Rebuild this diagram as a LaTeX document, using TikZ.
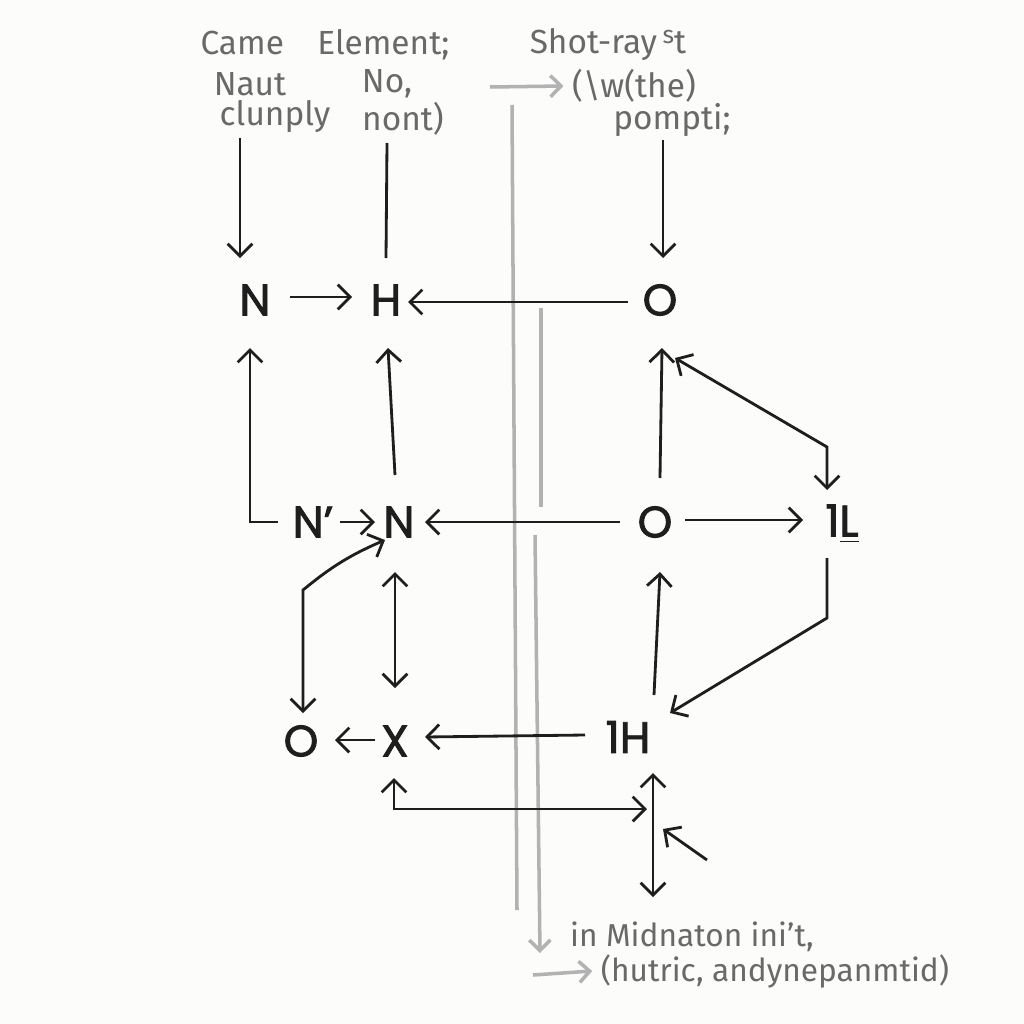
\documentclass[tikz,border=0pt]{standalone}
\usepackage{fontspec}
\setmainfont{Fira Sans}
\newfontfamily\atomfont[FakeBold=2]{Poppins}
\usetikzlibrary{arrows.meta,calc}
\definecolor{paper}{RGB}{252,252,250}
\definecolor{ink}{RGB}{30,30,30}
\definecolor{pencil}{RGB}{105,105,105}
\definecolor{guide}{RGB}{178,178,178}

\begin{document}
\begin{tikzpicture}[x=0.01cm,y=-0.01cm,
    atom/.style={font=\atomfont\fontsize{12.5}{14}\selectfont,text=ink,inner sep=0pt},
    note/.style={font=\fontsize{9.5}{11}\selectfont,text=pencil,inner sep=0pt},
    arr/.style={draw=ink,line width=0.8pt,-{Straight Barb[length=3.5pt,width=7pt]}},
    arrs/.style={arr,{Straight Barb[length=3.5pt,width=7pt]}-{Straight Barb[length=3.5pt,width=7pt]}},
    guideline/.style={draw=guide,line width=1pt},
    guidearr/.style={guideline,-{Straight Barb[length=3pt,width=6pt]}}]

  \fill[paper] (0,0) rectangle (1024,1024);
  \useasboundingbox (0,0) rectangle (1024,1024);

  % pencil notes
  \node[note] (came) at (325,45) {Came\hspace{1em}Element;};
  \node[note] (nat) at (250,84) {Naut};
  \node[note] (clunply) at (275,117) {clunply};
  \node[note] (no) at (387,84) {No,};
  \node[note] (nont) at (403,119) {nont)};
  \node[note] (shotray) at (608,45) {Shot-ray\,\raisebox{0.6ex}{\scriptsize s}t};
  \node[note] (wthe) at (634,86) {(\textbackslash w(the)};
  \node[note] (pompti) at (672,120) {pompti;};
  \node[note,font=\fontsize{9}{11}\selectfont] (midnaton) at (692,937) {in Midnaton ini’t,};
  \node[note,font=\fontsize{9}{11}\selectfont] (hutric) at (775,971) {(hutric, andynepanmtid)};

  % guide lines
  \draw[guideline] (512,105) -- (517,910);
  \draw[guideline] (541,308) -- (541,507);
  \draw[guidearr] (535,535) -- (540,953);
  \draw[guidearr] (490,87) -- ($(wthe.west)+(-8,0)$);
  \draw[guidearr] (533,975) -- ($(hutric.west)+(-8,0)$);

  % atoms
  \node[atom] (n1) at (255,300) {N};
  \node[atom] (h1) at (386,300) {H};
  \node[atom] (o1) at (660,300) {O};
  \node[atom] (np) at (313,522) {N’};
  \node[atom] (n2) at (399,522) {N};
  \node[atom] (o2) at (655,522) {O};
  \node[atom] (oneL) at (842,524) {1\underline{L}};
  \node[atom] (o3) at (301,741) {O};
  \node[atom] (x) at (395,741) {X};
  \node[atom] (oneH) at (628,737) {1H};

  \coordinate (t1) at (240,138);
  \coordinate (t2) at (387,143);
  \coordinate (t3) at (663,140);

  % top leads
  \draw[arr] (t1) -- ($(n1)+(-15,-42)$);
  \draw[arr,-] (t2) -- ($(h1)+(0,-42)$);
  \draw[arr] (t3) -- ($(o1)+(3,-42)$);

  % first row
  \draw[arr] ($(n1)+(35,-3)$) -- ($(h1)+(-34,-3)$);
  \draw[arr] ($(o1)+(-32,2)$) -- ($(h1)+(22,2)$);

  \draw[arr] ($(np)+(-35,0)$) -| ($(n1)+(-5,48)$);
  \draw[arr] ($(n2)+(-4,-47)$) -- ($(h1)+(2,48)$);
  \draw[arr] ($(o2)+(5,-44)$) -- ($(o1)+(2,48)$);
  \draw[arrs] ($(oneL)+(-15,-34)$) -- ($(oneL)+(-15,-77)$) -- ($(o1)+(15,58)$);

  % second row
  \draw[arr] ($(np)+(27,0)$) -- ($(n2)+(-24,0)$);
  \draw[arr] ($(o2)+(-35,0)$) -- ($(n2)+(26,0)$);
  \draw[arr] ($(o2)+(30,-2)$) -- ($(oneL)+(-39,-4)$);
  \draw[arr] ($(oneL)+(-15,34)$) -- ($(oneL)+(-15,94)$) -- ($(oneH)+(42,-24)$);
  \draw[arr] ($(oneH)+(26,-42)$) -- ($(o2)+(5,50)$);
  \draw[arrs] ($(o3)+(2,-28)$) -- ($(o3)+(2,-151)$) to[bend left=8] ($(n2)+(-14,18)$);
  \draw[arrs] ($(n2)+(-4,50)$) -- ($(x)+(0,-53)$);

  % third row
  \draw[arr] ($(oneH)+(-43,-2)$) -- ($(x)+(30,-4)$);
  \draw[arr] ($(x)+(-20,-1)$) -- ($(o3)+(34,-1)$);
  \draw[arrs] ($(x)+(-1,37)$) |- ($(oneH)+(19,72)$);
  \draw[arrs] ($(oneH)+(25,36)$) -- ($(oneH)+(25,160)$);
  \draw[arr] ($(oneH)+(79,123)$) -- ($(oneH)+(35,92)$);

\end{tikzpicture}
\end{document}
